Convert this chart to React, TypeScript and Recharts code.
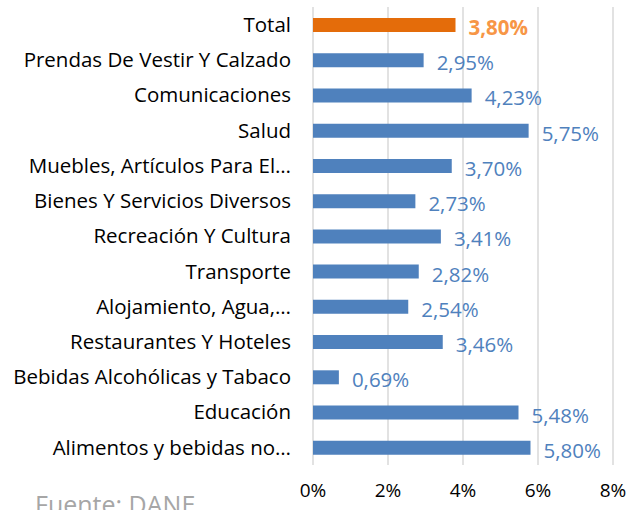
import { BarChart, Bar, XAxis, YAxis, CartesianGrid, Cell, LabelList } from 'recharts';

const categories = [
  'Total',
  'Prendas De Vestir Y Calzado',
  'Comunicaciones',
  'Salud',
  'Muebles, Artículos Para El…',
  'Bienes Y Servicios Diversos',
  'Recreación Y Cultura',
  'Transporte',
  'Alojamiento, Agua,…',
  'Restaurantes Y Hoteles',
  'Bebidas Alcohólicas y Tabaco',
  'Educación',
  'Alimentos y bebidas no…',
];

const values = [3.8, 2.95, 4.23, 5.75, 3.7, 2.73, 3.41, 2.82, 2.54, 3.46, 0.69, 5.48, 5.8];

const xTicks = [0, 2, 4, 6, 8];

const data = categories.map((name, i) => ({ name, value: values[i] }));

const FONT = '"Open Sans", Lato, sans-serif';

const fmt = (v: number) => v.toFixed(2).replace('.', ',') + '%';

const ValueLabel = (props: any) => {
  const { x, y, width, height, value, index } = props;
  const isTotal = index === 0;
  return (
    <text
      x={x + width + 13}
      y={y + height / 2 + 2}
      dominantBaseline="central"
      fontFamily={FONT}
      fontSize={20.5}
      fontWeight={isTotal ? 700 : 400}
      fill={isTotal ? '#F79646' : '#4F81BD'}
    >
      {fmt(value)}
    </text>
  );
};

export default function App() {
  return (
    <div style={{ position: 'absolute', left: 0, top: 0, width: 630, height: 510, background: '#fff', overflow: 'hidden' }}>
      <BarChart
        width={630}
        height={510}
        data={data}
        layout="vertical"
        margin={{ top: 7, right: 17, left: 0, bottom: 0 }}
      >
        <CartesianGrid horizontal={false} stroke="#d9d9d9" strokeWidth={1.5} />
        <XAxis
          type="number"
          domain={[0, 8]}
          ticks={xTicks}
          tickFormatter={(v) => `${v}%`}
          axisLine={false}
          tickLine={false}
          tickSize={0}
          tickMargin={19}
          height={45}
          tick={{ fill: '#000', fontSize: 19, fontFamily: FONT }}
        />
        <YAxis
          type="category"
          dataKey="name"
          width={313}
          axisLine={false}
          tickLine={false}
          tickSize={0}
          tickMargin={22}
          interval={0}
          tick={{ fill: '#000', fontSize: 20.5, fontFamily: FONT }}
        />
        <Bar dataKey="value" barSize={14} isAnimationActive={false}>
          {data.map((d, i) => (
            <Cell key={d.name} fill={i === 0 ? '#E46C0A' : '#4F81BD'} />
          ))}
          <LabelList dataKey="value" content={ValueLabel} />
        </Bar>
      </BarChart>
      <div
        style={{
          position: 'absolute',
          left: 35,
          top: 487,
          fontFamily: FONT,
          fontSize: 25,
          color: '#a6a6a6',
          whiteSpace: 'nowrap',
        }}
      >
        Fuente: DANE
      </div>
    </div>
  );
}
